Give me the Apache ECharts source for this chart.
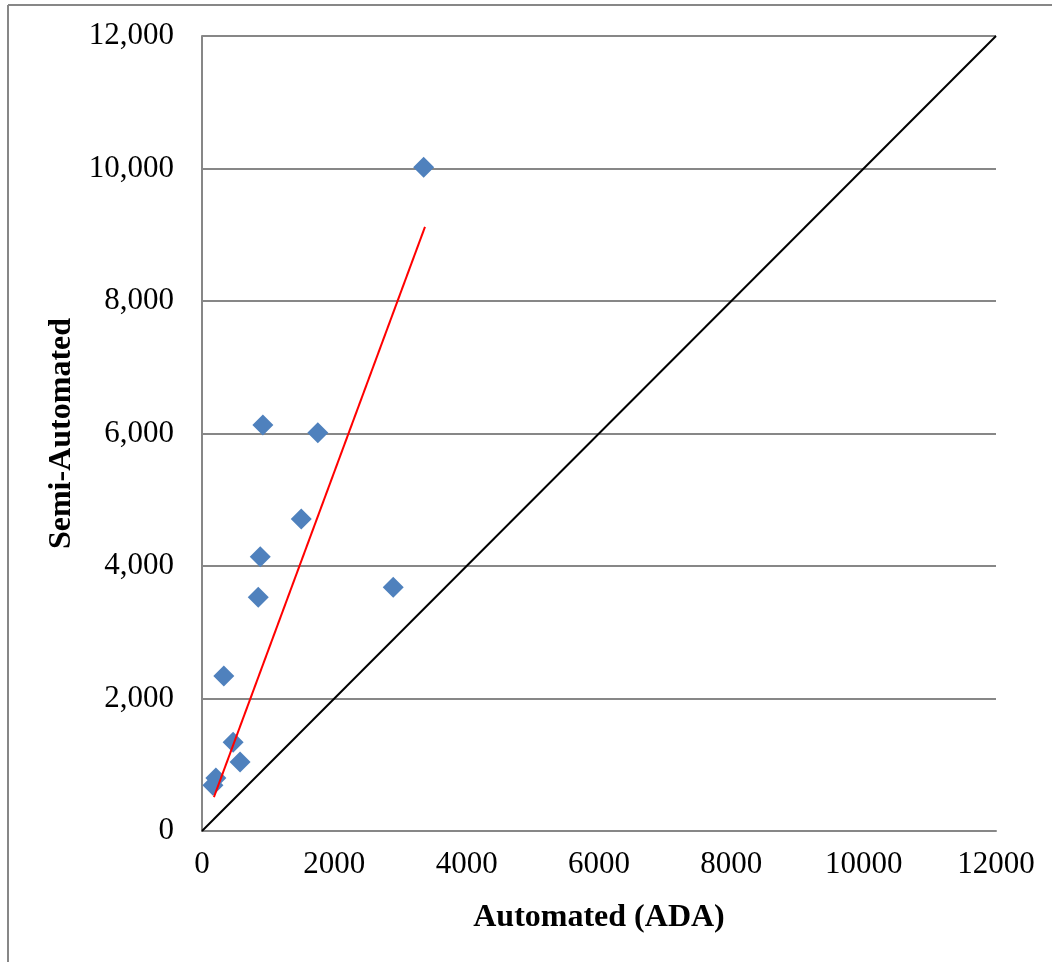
<!DOCTYPE html>
<html>
<head>
<meta charset="utf-8">
<script src="https://cdn.jsdelivr.net/npm/echarts@6/dist/echarts.min.js"></script>
<style>
  html, body { margin: 0; padding: 0; background: #fff; }
  #chart { width: 1052px; height: 962px; }
</style>
</head>
<body>
<div id="chart"></div>
<script>
// automated (ADA) vs semi-automated counts
var automated = [3350, 920, 1750, 1500, 880, 850, 2890, 330, 470, 575, 210, 165];
var semiAutomated = [10020, 6130, 6010, 4710, 4140, 3530, 3680, 2340, 1340, 1040, 800, 690];
// linear trend line end points
var trendX = [180, 3370];
var trendY = [510, 9120];
// 1:1 reference line
var refX = [0, 12000];
var refY = [0, 12000];
var xTicks = [0, 2000, 4000, 6000, 8000, 10000, 12000];
var yTicks = [0, 2000, 4000, 6000, 8000, 10000, 12000];

var chartDom = document.getElementById('chart');
var myChart = echarts.init(chartDom, null, { devicePixelRatio: 1 });

var font = '"Liberation Serif", "Times New Roman", serif';

var points = automated.map(function (x, i) { return [x, semiAutomated[i]]; });
var trend = trendX.map(function (x, i) { return [x, trendY[i]]; });
var ref = refX.map(function (x, i) { return [x, refY[i]]; });

var option = {
  animation: false,
  backgroundColor: '#fff',
  grid: { left: 202, right: 56, top: 36, bottom: 131 },
  graphic: [
    { type: 'line', shape: { x1: 8, y1: 5, x2: 1052, y2: 5 }, style: { stroke: '#878787', lineWidth: 2 } },
    { type: 'line', shape: { x1: 8, y1: 5, x2: 8, y2: 962 }, style: { stroke: '#878787', lineWidth: 2 } }
  ],
  xAxis: {
    type: 'value',
    min: xTicks[0],
    max: xTicks[xTicks.length - 1],
    interval: 2000,
    name: 'Automated (ADA)',
    nameLocation: 'middle',
    nameGap: 71,
    nameTextStyle: { fontFamily: font, fontSize: 32, fontWeight: 'bold', color: '#000' },
    axisLine: { show: true, lineStyle: { color: '#878787', width: 2 } },
    axisTick: { show: false },
    splitLine: { show: false },
    axisLabel: {
      fontFamily: font, fontSize: 31, color: '#000', margin: 18,
      formatter: function (v) { return String(v); }
    }
  },
  yAxis: {
    type: 'value',
    min: yTicks[0],
    max: yTicks[yTicks.length - 1],
    interval: 2000,
    name: 'Semi-Automated',
    nameLocation: 'middle',
    nameGap: 115,
    nameTextStyle: { fontFamily: font, fontSize: 32, fontWeight: 'bold', color: '#000' },
    axisLine: { show: true, lineStyle: { color: '#878787', width: 2 } },
    axisTick: { show: false },
    splitLine: { show: true, lineStyle: { color: '#878787', width: 2 } },
    axisLabel: {
      fontFamily: font, fontSize: 31, color: '#000', margin: 28,
      formatter: function (v) { return v.toLocaleString('en-US'); }
    }
  },
  series: [
    {
      name: '1:1',
      type: 'line',
      data: ref,
      symbol: 'none',
      lineStyle: { color: '#000', width: 2 },
      z: 2
    },
    {
      name: 'Trend',
      type: 'line',
      data: trend,
      symbol: 'none',
      lineStyle: { color: '#ff0000', width: 2 },
      z: 4
    },
    {
      name: 'Counts',
      type: 'scatter',
      data: points,
      symbol: 'diamond',
      symbolSize: 21,
      itemStyle: { color: '#4f81bd', opacity: 1 },
      z: 3
    }
  ]
};

option && myChart.setOption(option);
</script>
</body>
</html>
